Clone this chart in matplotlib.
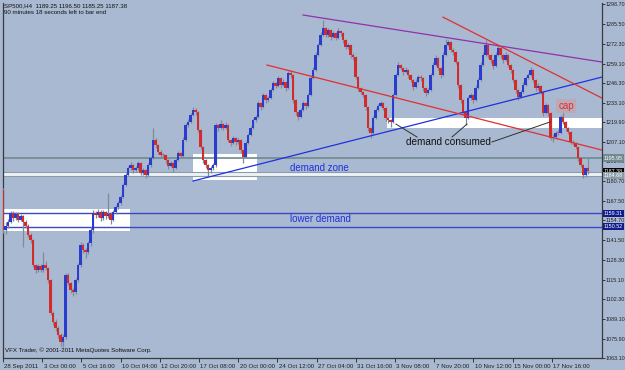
import numpy as np
import matplotlib
matplotlib.use("Agg")
import matplotlib.pyplot as plt
import matplotlib.transforms as mtransforms
from matplotlib.patches import Rectangle

# ---- data (SP500, H4) ----
first_open = 1174.9
closes = [1148.3, 1151.0, 1153.6, 1159.6, 1156.3, 1158.9, 1155.0, 1157.6, 1153.6, 1151.0,
          1145.0, 1141.6, 1125.0, 1121.7, 1124.3, 1121.7, 1125.0, 1123.0, 1115.0, 1093.1,
          1087.1, 1083.1, 1078.4, 1073.8, 1077.1, 1118.3, 1113.0, 1108.4, 1107.0, 1115.0,
          1125.0, 1138.3, 1135.0, 1133.7, 1139.6, 1148.3, 1159.6, 1158.3, 1160.3, 1156.3,
          1160.3, 1157.6, 1158.9, 1155.0, 1160.3, 1163.6, 1166.3, 1170.3, 1178.2, 1184.9,
          1189.6, 1191.6, 1188.2, 1189.6, 1192.9, 1186.2, 1188.2, 1184.9, 1191.6, 1196.2,
          1208.2, 1204.9, 1200.2, 1198.2, 1198.2, 1194.9, 1190.9, 1192.9, 1189.6, 1194.9,
          1199.5, 1197.5, 1208.2, 1218.2, 1220.2, 1224.8, 1228.2, 1226.8, 1214.8, 1203.5,
          1194.9, 1191.6, 1188.2, 1189.6, 1191.6, 1218.2, 1216.2, 1218.8, 1216.2, 1218.2,
          1208.2, 1206.2, 1209.5, 1206.9, 1208.2, 1201.5, 1196.9, 1206.2, 1211.5, 1216.2,
          1221.5, 1223.5, 1232.8, 1230.2, 1238.1, 1234.8, 1236.1, 1241.5, 1246.1, 1244.1,
          1249.5, 1244.8, 1246.8, 1242.8, 1252.8, 1251.4, 1234.8, 1226.8, 1223.5, 1228.2,
          1232.8, 1230.8, 1238.1, 1249.5, 1254.8, 1264.8, 1271.4, 1278.1, 1282.7, 1278.1,
          1281.4, 1276.7, 1279.4, 1276.1, 1280.7, 1279.4, 1274.7, 1270.1, 1271.4, 1264.8,
          1263.4, 1250.1, 1242.8, 1240.1, 1238.1, 1230.2, 1216.2, 1212.8, 1222.8, 1228.2,
          1230.8, 1232.8, 1229.5, 1222.8, 1221.5, 1220.2, 1238.1, 1251.4, 1258.1, 1256.1,
          1253.4, 1254.8, 1251.4, 1248.1, 1243.5, 1246.8, 1250.1, 1249.5, 1242.8, 1239.5,
          1241.5, 1251.4, 1258.1, 1262.8, 1256.1, 1251.4, 1264.8, 1271.4, 1273.4, 1268.1,
          1266.8, 1260.1, 1244.8, 1234.8, 1226.8, 1222.8, 1236.1, 1238.1, 1234.8, 1242.8,
          1248.1, 1258.1, 1264.8, 1271.4, 1264.8, 1261.4, 1257.4, 1264.8, 1269.4, 1264.8,
          1261.4, 1264.8, 1258.1, 1254.8, 1248.1, 1241.5, 1236.8, 1240.1, 1244.8, 1249.5,
          1251.4, 1254.8, 1248.1, 1242.8, 1244.1, 1240.1, 1226.2, 1231.5, 1226.2, 1209.5,
          1210.2, 1212.8, 1213.2, 1223.5, 1220.2, 1216.2, 1213.5, 1206.9, 1206.2, 1203.5,
          1196.2, 1191.6, 1184.9, 1189.25, 1187.38]
highs = [1176.0, 1153.5, 1155.5, 1161.0, 1160.8, 1160.2, 1160.0, 1159.0, 1158.5, 1155.0,
         1152.0, 1146.5, 1142.5, 1126.0, 1126.0, 1125.5, 1133.5, 1127.5, 1124.0, 1116.0,
         1094.5, 1089.0, 1084.5, 1079.5, 1079.0, 1120.0, 1119.5, 1114.0, 1110.0, 1116.5,
         1126.5, 1140.0, 1139.5, 1136.5, 1141.0, 1150.0, 1161.5, 1161.0, 1162.0, 1161.5,
         1161.8, 1161.0, 1172.9, 1160.0, 1161.5, 1165.0, 1167.8, 1171.8, 1179.8, 1186.5,
         1191.0, 1193.5, 1192.5, 1191.0, 1194.5, 1193.5, 1189.8, 1189.0, 1193.0, 1197.8,
         1216.2, 1209.8, 1205.5, 1201.5, 1199.5, 1199.0, 1195.5, 1194.5, 1193.5, 1196.5,
         1201.0, 1200.5, 1210.0, 1219.8, 1222.0, 1226.5, 1230.2, 1229.5, 1227.5, 1215.5,
         1204.0, 1195.5, 1192.5, 1191.0, 1193.0, 1219.8, 1219.0, 1221.5, 1219.5, 1220.0,
         1218.8, 1209.0, 1211.0, 1210.5, 1209.8, 1208.8, 1202.0, 1207.8, 1213.0, 1217.8,
         1223.0, 1225.0, 1234.5, 1233.5, 1239.8, 1238.8, 1237.8, 1243.0, 1247.8, 1247.0,
         1251.0, 1250.0, 1248.5, 1247.5, 1254.0, 1254.8, 1252.0, 1235.5, 1227.5, 1229.8,
         1234.5, 1233.5, 1239.8, 1251.0, 1256.5, 1266.5, 1273.0, 1279.8, 1288.0, 1283.5,
         1283.0, 1282.0, 1281.0, 1280.0, 1282.5, 1281.5, 1280.0, 1275.5, 1273.0, 1272.0,
         1266.0, 1264.0, 1250.8, 1243.5, 1241.0, 1238.8, 1231.0, 1217.0, 1224.5, 1229.8,
         1232.5, 1234.5, 1233.5, 1230.0, 1223.5, 1222.5, 1239.8, 1253.0, 1260.1, 1259.0,
         1257.0, 1256.5, 1255.5, 1252.0, 1248.8, 1248.5, 1251.8, 1251.5, 1250.0, 1243.5,
         1243.0, 1253.0, 1259.8, 1264.5, 1263.5, 1256.8, 1266.5, 1275.4, 1275.0, 1274.0,
         1269.5, 1267.5, 1261.0, 1245.5, 1235.5, 1227.5, 1237.8, 1239.8, 1239.0, 1244.5,
         1249.8, 1259.8, 1266.5, 1274.7, 1272.0, 1265.5, 1262.0, 1266.5, 1272.1, 1270.0,
         1265.5, 1266.5, 1265.5, 1258.8, 1255.5, 1248.8, 1242.0, 1241.8, 1246.5, 1251.0,
         1253.0, 1256.5, 1255.5, 1248.8, 1246.0, 1245.0, 1241.0, 1233.0, 1232.5, 1227.0,
         1212.0, 1214.5, 1215.0, 1225.0, 1230.2, 1221.0, 1217.0, 1214.0, 1208.5, 1207.0,
         1204.5, 1197.0, 1192.5, 1190.5, 1196.5]
lows = [1146.5, 1145.8, 1149.5, 1152.8, 1154.5, 1155.0, 1153.8, 1154.0, 1137.0, 1149.5,
        1143.5, 1139.8, 1123.5, 1120.0, 1120.5, 1120.2, 1120.5, 1121.5, 1113.2, 1091.5,
        1085.0, 1081.0, 1076.5, 1071.0, 1070.5, 1075.5, 1111.5, 1106.5, 1104.5, 1105.8,
        1113.5, 1124.0, 1133.0, 1129.5, 1132.0, 1137.5, 1146.5, 1156.5, 1156.8, 1154.5,
        1155.0, 1155.8, 1156.0, 1152.5, 1154.0, 1159.0, 1162.5, 1165.0, 1169.5, 1177.5,
        1184.0, 1188.5, 1186.5, 1186.8, 1188.5, 1184.8, 1185.0, 1182.9, 1184.0, 1190.5,
        1195.5, 1203.0, 1198.8, 1196.5, 1196.8, 1193.0, 1189.0, 1190.0, 1186.9, 1188.8,
        1194.0, 1196.0, 1196.8, 1207.5, 1217.0, 1219.5, 1224.0, 1225.0, 1213.5, 1202.0,
        1193.0, 1189.5, 1184.0, 1186.5, 1188.5, 1190.5, 1214.5, 1215.5, 1214.8, 1215.5,
        1206.8, 1204.5, 1205.5, 1205.0, 1205.8, 1199.8, 1192.9, 1196.0, 1205.5, 1210.8,
        1215.5, 1220.5, 1222.8, 1228.5, 1229.5, 1233.0, 1233.5, 1235.5, 1240.8, 1242.5,
        1243.5, 1243.0, 1244.0, 1241.0, 1242.0, 1249.8, 1233.0, 1225.0, 1221.5, 1222.8,
        1227.5, 1229.0, 1230.0, 1237.5, 1249.0, 1254.0, 1264.0, 1270.8, 1277.5, 1276.5,
        1277.0, 1275.0, 1275.8, 1274.5, 1275.5, 1277.5, 1273.0, 1268.5, 1269.0, 1263.0,
        1261.5, 1248.5, 1241.0, 1238.5, 1236.5, 1228.5, 1214.5, 1209.5, 1212.0, 1222.0,
        1227.5, 1230.0, 1228.0, 1221.0, 1219.8, 1216.8, 1219.5, 1237.5, 1250.8, 1254.5,
        1251.8, 1252.5, 1249.8, 1246.5, 1241.8, 1242.5, 1246.0, 1247.8, 1241.0, 1237.5,
        1238.5, 1240.8, 1250.5, 1257.5, 1254.5, 1249.8, 1250.8, 1264.0, 1270.5, 1266.5,
        1265.0, 1258.5, 1243.0, 1233.0, 1225.0, 1218.2, 1222.0, 1235.0, 1233.0, 1234.0,
        1242.0, 1247.5, 1257.5, 1264.0, 1263.0, 1259.5, 1255.5, 1256.8, 1264.0, 1263.0,
        1259.5, 1260.5, 1256.5, 1253.0, 1246.5, 1239.8, 1235.0, 1236.0, 1239.5, 1244.0,
        1248.8, 1250.8, 1246.5, 1241.0, 1241.5, 1238.5, 1224.5, 1225.5, 1224.5, 1208.0,
        1206.9, 1209.0, 1211.5, 1212.5, 1218.8, 1214.5, 1212.0, 1205.5, 1204.8, 1202.0,
        1194.5, 1190.0, 1182.9, 1183.5, 1185.25]
opens = [first_open] + closes[:-1]

price_ticks = [1298.70, 1285.50, 1272.30, 1259.10, 1246.30, 1233.10, 1219.90, 1207.10,
               1193.90, 1180.70, 1167.50, 1154.70, 1141.50, 1128.30, 1115.10, 1102.30,
               1089.10, 1075.90, 1063.10]
date_labels = ["28 Sep 2011", "3 Oct 00:00", "5 Oct 16:00", "10 Oct 04:00", "12 Oct 20:00",
               "17 Oct 08:00", "20 Oct 00:00", "24 Oct 12:00", "27 Oct 04:00", "31 Oct 16:00",
               "3 Nov 08:00", "7 Nov 20:00", "10 Nov 12:00", "15 Nov 00:00", "17 Nov 16:00"]

# drawn objects: zones (bar0, bar1, price0, price1), trend lines (bar0, price0, bar1, price1)
zones = [(-2, 50.8, 1147.6, 1162.3), (76, 101.6, 1181.6, 1198.9), (153.6, 240, 1216.2, 1222.8)]
trend_lines = [((76, 1180.9), (239.6, 1250.1), "#2030e0"),
               ((105.6, 1258.1), (239.6, 1201.5), "#e03030"),
               ((120, 1291.4), (239.6, 1260.1), "#9030b0"),
               ((176, 1290.0), (239.6, 1236.1), "#e03030")]
pointer_lines = [((157.2, 1218.8), (165.6, 1210.2)),
                 ((185.6, 1218.8), (179.6, 1210.2)),
                 ((195.6, 1206.9), (218.8, 1220.2))]
grey_line = 1196.2
zone_band = (1184.5, 1186.9)
lower_demand = [1159.31, 1150.52]

bg = "#a9b9d1"
fig = plt.figure(figsize=(6.25, 3.7), dpi=100)
fig.patch.set_facecolor(bg)
ax = fig.add_axes([3 / 625, 12 / 370, 599 / 625, 355 / 370])
ax.set_facecolor(bg)
ax.set_xlim(0, 239.6)
ax.set_ylim(1063.1, 1299.4)

for x0, x1, y0, y1 in zones:
    ax.add_patch(Rectangle((x0, y0), x1 - x0, y1 - y0, fc="white", ec="none", zorder=1))

# horizontal levels
ax.axhline(grey_line, color="#6f8a90", lw=1.2, zorder=2)
ax.axhspan(zone_band[0], zone_band[1], color="#eef2f6", lw=0, zorder=2)
for y in zone_band:
    ax.axhline(y, color="#8a9ca8", lw=0.8, zorder=2)
for y in lower_demand:
    ax.axhline(y, color="#3a48c8", lw=1.0, zorder=2)

# candles
idx = np.arange(len(closes))
o = np.array(opens)
c = np.array(closes)
ax.vlines(idx, lows, highs, color="#7f8b99", lw=0.9, zorder=3)
body_col = np.where(np.abs(c - o) < 0.5, "#e040e0", np.where(c > o, "#2a3cd0", "#d42a2a"))
body_h = np.maximum(np.abs(c - o), 0.6)
ax.bar(idx, body_h, bottom=np.minimum(o, c), width=0.9, color=body_col, lw=0, zorder=4)

for (x0, y0), (x1, y1), col in trend_lines:
    ax.plot([x0, x1], [y0, y1], color=col, lw=0.9, zorder=5, clip_on=True)
for (x0, y0), (x1, y1) in pointer_lines:
    ax.plot([x0, x1], [y0, y1], color="#303030", lw=0.7, zorder=5)

# annotations
ax.text(115, 1189.6, "demand zone", color="#2030e0", fontsize=7, va="center",
        family="Liberation Sans", zorder=6)
ax.text(115, 1155.6, "lower demand", color="#2030e0", fontsize=7, va="center",
        family="Liberation Sans", zorder=6)
ax.text(161, 1206.9, "demand consumed", color="#101010", fontsize=7.2, va="center",
        family="Liberation Sans", zorder=6)
ax.text(225.2, 1230.8, "cap", color="#e03030", fontsize=7, va="center", ha="center",
        family="Liberation Sans", zorder=6,
        bbox=dict(boxstyle="square,pad=0.25", fc="#c0a8b4", ec="none", alpha=0.9))

# axes styling
for s in ["left", "right", "bottom"]:
    ax.spines[s].set_color("#3a3a3a")
    ax.spines[s].set_linewidth(0.9)
ax.spines["top"].set_visible(False)
ax.yaxis.tick_right()
ax.set_yticks(price_ticks)
ax.set_yticklabels(["%.2f" % v for v in price_ticks], fontsize=3.9, family="Liberation Sans")
ax.tick_params(axis="y", length=2, width=0.6, pad=0.5, colors="#202020")
ax.set_xticks(np.arange(len(date_labels)) * 15.68)
ax.set_xticklabels(date_labels, fontsize=4.4, family="Liberation Sans", ha="left")
ax.tick_params(axis="x", length=3, width=0.6, pad=1.5, colors="#202020")
off = mtransforms.ScaledTranslation(1.5 / 100, 0, fig.dpi_scale_trans)
for lab in ax.get_xticklabels():
    lab.set_transform(lab.get_transform() + off)

# price boxes on the right scale
bt = mtransforms.blended_transform_factory(ax.transAxes, ax.transData)
boxes = [(1196.2, "1195.95", "#6f8a90", "white"),
         (1187.38, "1187.38", "#000000", "white"),
         (1184.7, "1184.68", "#8a9ca8", "white"),
         (1159.31, "1159.31", "#101c8c", "white"),
         (1150.52, "1150.52", "#101c8c", "white")]
for y, txt, fc, tc in boxes:
    ax.text(1.003, y, txt, transform=bt, fontsize=3.9, color=tc, va="center", ha="left",
            family="Liberation Sans", clip_on=False, zorder=10,
            bbox=dict(boxstyle="square,pad=0.2", fc=fc, ec="none"))

fig.text(4 / 625, 1 - 3 / 370, "SP500,H4  1189.25 1196.50 1185.25 1187.38", fontsize=4.4,
         va="top", family="Liberation Sans", color="#101010")
fig.text(4 / 625, 1 - 10 / 370, "90 minutes 18 seconds left to bar end", fontsize=4.4,
         va="top", family="Liberation Sans", color="#101010")
ax.text(0.003, 0.015, "VFX Trader, \u00a9 2001-2011 MetaQuotes Software Corp.", fontsize=4.4,
        transform=ax.transAxes, family="Liberation Sans", color="#101010", va="bottom")

fig.savefig("out.png", dpi=100, facecolor=bg)
